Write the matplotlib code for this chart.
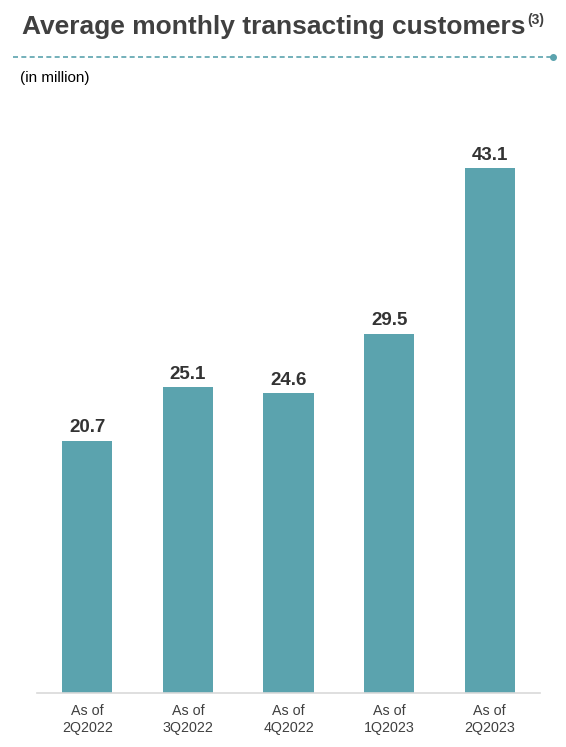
import matplotlib.pyplot as plt

categories = ['As of\n2Q2022', 'As of\n3Q2022', 'As of\n4Q2022', 'As of\n1Q2023', 'As of\n2Q2023']
customers = [20.7, 25.1, 24.6, 29.5, 43.1]

W, H = 566, 747
fig = plt.figure(figsize=(W / 100, H / 100), dpi=100)
plt.rcParams['font.family'] = ['Liberation Sans', 'DejaVu Sans']

bar_color = '#5BA3AE'
text_color = '#404040'

ax = fig.add_axes([37 / W, (H - 693) / H, 503 / W, (693 - 130) / H])
x = range(len(categories))
bars = ax.bar(x, customers, width=0.5, color=bar_color)
ax.set_xlim(-0.5, len(categories) - 0.5)
ax.set_ylim(0, 46.2)

for b, v in zip(bars, customers):
    ax.text(b.get_x() + b.get_width() / 2, v + 0.35, f'{v:.1f}', ha='center', va='bottom',
            fontsize=13.5, fontweight='bold', color='#333333')

ax.set_xticks(list(x))
ax.set_xticklabels(categories, fontsize=10.3, color=text_color, linespacing=1.25)
ax.tick_params(axis='x', length=0, pad=8)
ax.set_yticks([])
for s in ['top', 'right', 'left']:
    ax.spines[s].set_visible(False)
ax.spines['bottom'].set_color('#D9D9D9')
ax.spines['bottom'].set_linewidth(1.2)

# title and header
title = fig.text(22 / W, 1 - 27 / H, 'Average monthly transacting customers', ha='left', va='center',
                 fontsize=19, fontweight='bold', color=text_color)
fig.canvas.draw()
tb = title.get_window_extent()
fig.text((tb.x1 + 2) / W, 1 - 20 / H, '(3)', ha='left', va='center', fontsize=10, fontweight='bold',
         color=text_color)
fig.add_artist(plt.Line2D([13 / W, 553 / W], [1 - 57 / H, 1 - 57 / H], transform=fig.transFigure,
                          color=bar_color, linestyle=(0, (3, 2)), linewidth=1.2))
fig.add_artist(plt.Line2D([553 / W], [1 - 57 / H], transform=fig.transFigure, marker='o',
                          markersize=4, color=bar_color))
fig.text(20 / W, 1 - 78 / H, '(in million)', ha='left', va='center', fontsize=11, color='black')

fig.savefig('out.png', dpi=100)
